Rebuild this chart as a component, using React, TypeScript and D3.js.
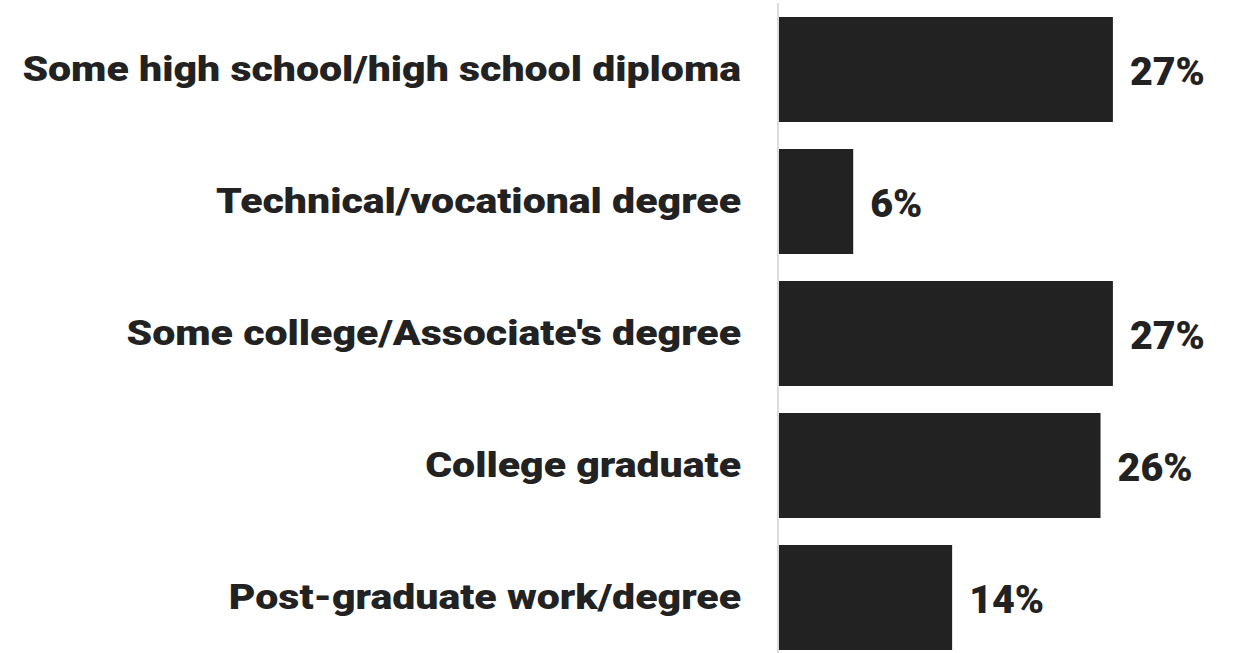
import React, { useEffect, useRef } from 'react';
import * as d3 from 'd3';

const categories = [
  'Some high school/high school diploma',
  'Technical/vocational degree',
  "Some college/Associate's degree",
  'College graduate',
  'Post-graduate work/degree',
];
const shares = [27, 6, 27, 26, 14];

const W = 1238;
const H = 653;

export default function App() {
  const svgRef = useRef<SVGSVGElement>(null);

  useEffect(() => {
    document.body.style.margin = '0';
    if (!svgRef.current) return;

    const svg = d3.select(svgRef.current);
    svg.selectAll('*').remove();

    const x = d3.scaleLinear().domain([0, 30]).range([779, 779 + 371]);

    const y = d3.scaleBand()
      .domain(categories)
      .range([3.5, 663.5])
      .paddingInner(0.2045)
      .paddingOuter(0.1023);

    const font = 'Roboto, sans-serif';
    const ink = '#222222';
    const labelRight = 741;

    // baseline axis
    svg.append('line')
      .attr('x1', 778)
      .attr('x2', 778)
      .attr('y1', 3)
      .attr('y2', H)
      .attr('stroke', '#dcdcdc')
      .attr('stroke-width', 2);

    // bars
    svg.selectAll('.bar')
      .data(shares)
      .enter()
      .append('rect')
      .attr('class', 'bar')
      .attr('x', x(0))
      .attr('y', (_, i) => y(categories[i]) || 0)
      .attr('width', d => x(d) - x(0))
      .attr('height', y.bandwidth())
      .attr('fill', ink);

    // category labels
    const catG = svg.append('g');
    const cats = catG.selectAll('.cat')
      .data(categories)
      .enter()
      .append('text')
      .attr('class', 'cat')
      .attr('x', labelRight)
      .attr('y', d => (y(d) || 0) + y.bandwidth() / 2)
      .attr('dy', '0.32em')
      .attr('text-anchor', 'end')
      .style('font-family', font)
      .style('font-weight', 900)
      .style('font-size', '36px')
      .style('fill', ink)
      .text(d => d);

    // widen the geometric lettering to the reference width
    const longest = (cats.nodes()[0] as SVGTextElement).getComputedTextLength();
    const kx = 719 / longest;
    catG.attr('transform', `translate(${labelRight},0) scale(${kx},1) translate(${-labelRight},0)`);

    // value labels
    const vals = svg.selectAll('.val')
      .data(shares)
      .enter()
      .append('text')
      .attr('class', 'val')
      .attr('y', (_, i) => (y(categories[i]) || 0) + y.bandwidth() / 2)
      .attr('dy', '0.4em')
      .style('font-family', font)
      .style('font-weight', 900)
      .style('font-size', '39px')
      .style('fill', ink)
      .text(d => d + '%');

    const vw = (vals.nodes()[0] as SVGTextElement).getComputedTextLength();
    const kv = 75 / vw;
    vals.attr('transform', d => {
      const x0 = x(d) + 17;
      return `translate(${x0},0) scale(${kv},1)`;
    }).attr('x', 0);
  }, []);

  return <svg ref={svgRef} width={W} height={H} style={{ display: 'block', background: '#fff' }} />;
}
